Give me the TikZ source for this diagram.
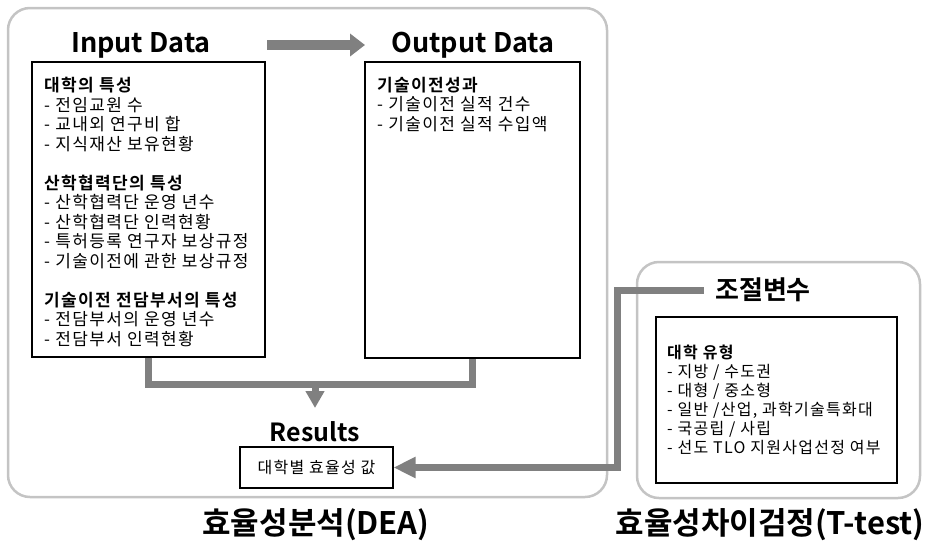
\documentclass[tikz,border=0pt]{standalone}
\usepackage{fontspec}
\setmainfont{Noto Sans CJK KR}[BoldFont={Noto Sans CJK KR Bold}]
\newfontfamily\listfam{Noto Sans CJK KR}[LetterSpace=8, BoldFont={Noto Sans CJK KR Bold}]
\usetikzlibrary{arrows.meta,positioning}
\definecolor{linkgray}{RGB}{128,128,128}
\definecolor{framegray}{RGB}{196,196,196}
\newcommand{\listfont}{\listfam\fontsize{17}{19.5}\selectfont}
\newcommand{\headfont}{\fontsize{27}{31}\selectfont\bfseries}
\newcommand{\capfont}{\fontsize{31}{35}\selectfont\bfseries}
\tikzset{
  frame/.style={draw=framegray, line width=2.5pt, rounded corners=22pt},
  listbox/.style={draw, line width=1.1pt, inner sep=0pt},
  listtext/.style={anchor=north west, inner sep=0pt, align=left, font=\listfont},
  headtext/.style={inner sep=2pt, font=\headfont},
  captext/.style={inner sep=2pt, font=\capfont},
  link/.style={draw=linkgray, line width=7pt},
  bigflow/.style={draw=linkgray, line width=10pt, -{Triangle[length=15pt,width=22pt]}}
}

\begin{document}
\begin{tikzpicture}[x=1pt,y=-1pt]
\useasboundingbox (0,0) rectangle (925,544);

		% DEA frame and T-test frame
		\draw[frame] (8,8) rectangle (607,497);
		\draw[frame] (637,262) rectangle (920,498);

		% titles
		\node[headtext] (inhead) at (141,45) {Input Data};
		\node[headtext] (outhead) at (473,45) {Output Data};
		\node[headtext, font=\fontsize{25}{29}\selectfont\bfseries] (reshead) at (315,432) {Results};
		\node[headtext, font=\fontsize{26}{30}\selectfont\bfseries] (modhead) at (763,290) {조절변수};

		% boxes
		\node[listbox, minimum width=233pt, minimum height=295pt] (inbox) at (148.5,209.5) {};
		\node[listbox, minimum width=215pt, minimum height=296pt] (outbox) at (472.5,210) {};
		\node[listbox, minimum width=153pt, minimum height=41pt, font=\listfam\fontsize{16}{18}\selectfont] (resbox) at (316.5,467.5) {대학별 효율성 값};
		\node[listbox, minimum width=241pt, minimum height=166pt] (modbox) at (776.5,400) {};

		% box contents
		\node[listtext] (intext) at (44,77) {\textbf{대학의 특성}\\
			- 전임교원 수\\
			- 교내외 연구비 합\\
			- 지식재산 보유현황\\[19.5pt]
			\textbf{산학협력단의 특성}\\
			- 산학협력단 운영 년수\\
			- 산학협력단 인력현황\\
			- 특허등록 연구자 보상규정\\
			- 기술이전에 관한 보상규정\\[19.5pt]
			\textbf{기술이전 전담부서의 특성}\\
			- 전담부서의 운영 년수\\
			- 전담부서 인력현황};
		\node[listtext] (outtext) at (377,77) {\textbf{기술이전성과}\\
			- 기술이전 실적 건수\\
			- 기술이전 실적 수입액};
		\node[listtext, font=\listfam\fontsize{16}{19}\selectfont] (modtext) at (667,345) {\textbf{대학 유형}\\
			- 지방 / 수도권\\
			- 대형 / 중소형\\
			- 일반 /산업, 과학기술특화대\\
			- 국공립 / 사립\\
			- 선도 TLO 지원사업선정 여부};

		% captions
		\node[captext] (deacap) at (316,525) {효율성분석(DEA)};
		\node[captext] (ttestcap) at (770,525) {효율성차이검정(T-test)};

		% connectors
		\coordinate (flowstart) at (267,45);
		\coordinate (flowend) at (365,45);
		\draw[bigflow] (flowstart) -- (flowend);

		\coordinate (joint) at (315,384);
		\coordinate (restop) at (315,408);
		\draw[link] (inbox.south) |- (joint) -| (outbox.south);
		\draw[link, -{Triangle[length=17pt,width=18pt]}] (joint) -- (restop);

		\coordinate (bend) at (617,380);
		\draw[link, -{Triangle[length=22pt,width=20pt]}] (modhead.west) [shorten <=9pt] -| (bend) |- (resbox.east);

\end{tikzpicture}
\end{document}
